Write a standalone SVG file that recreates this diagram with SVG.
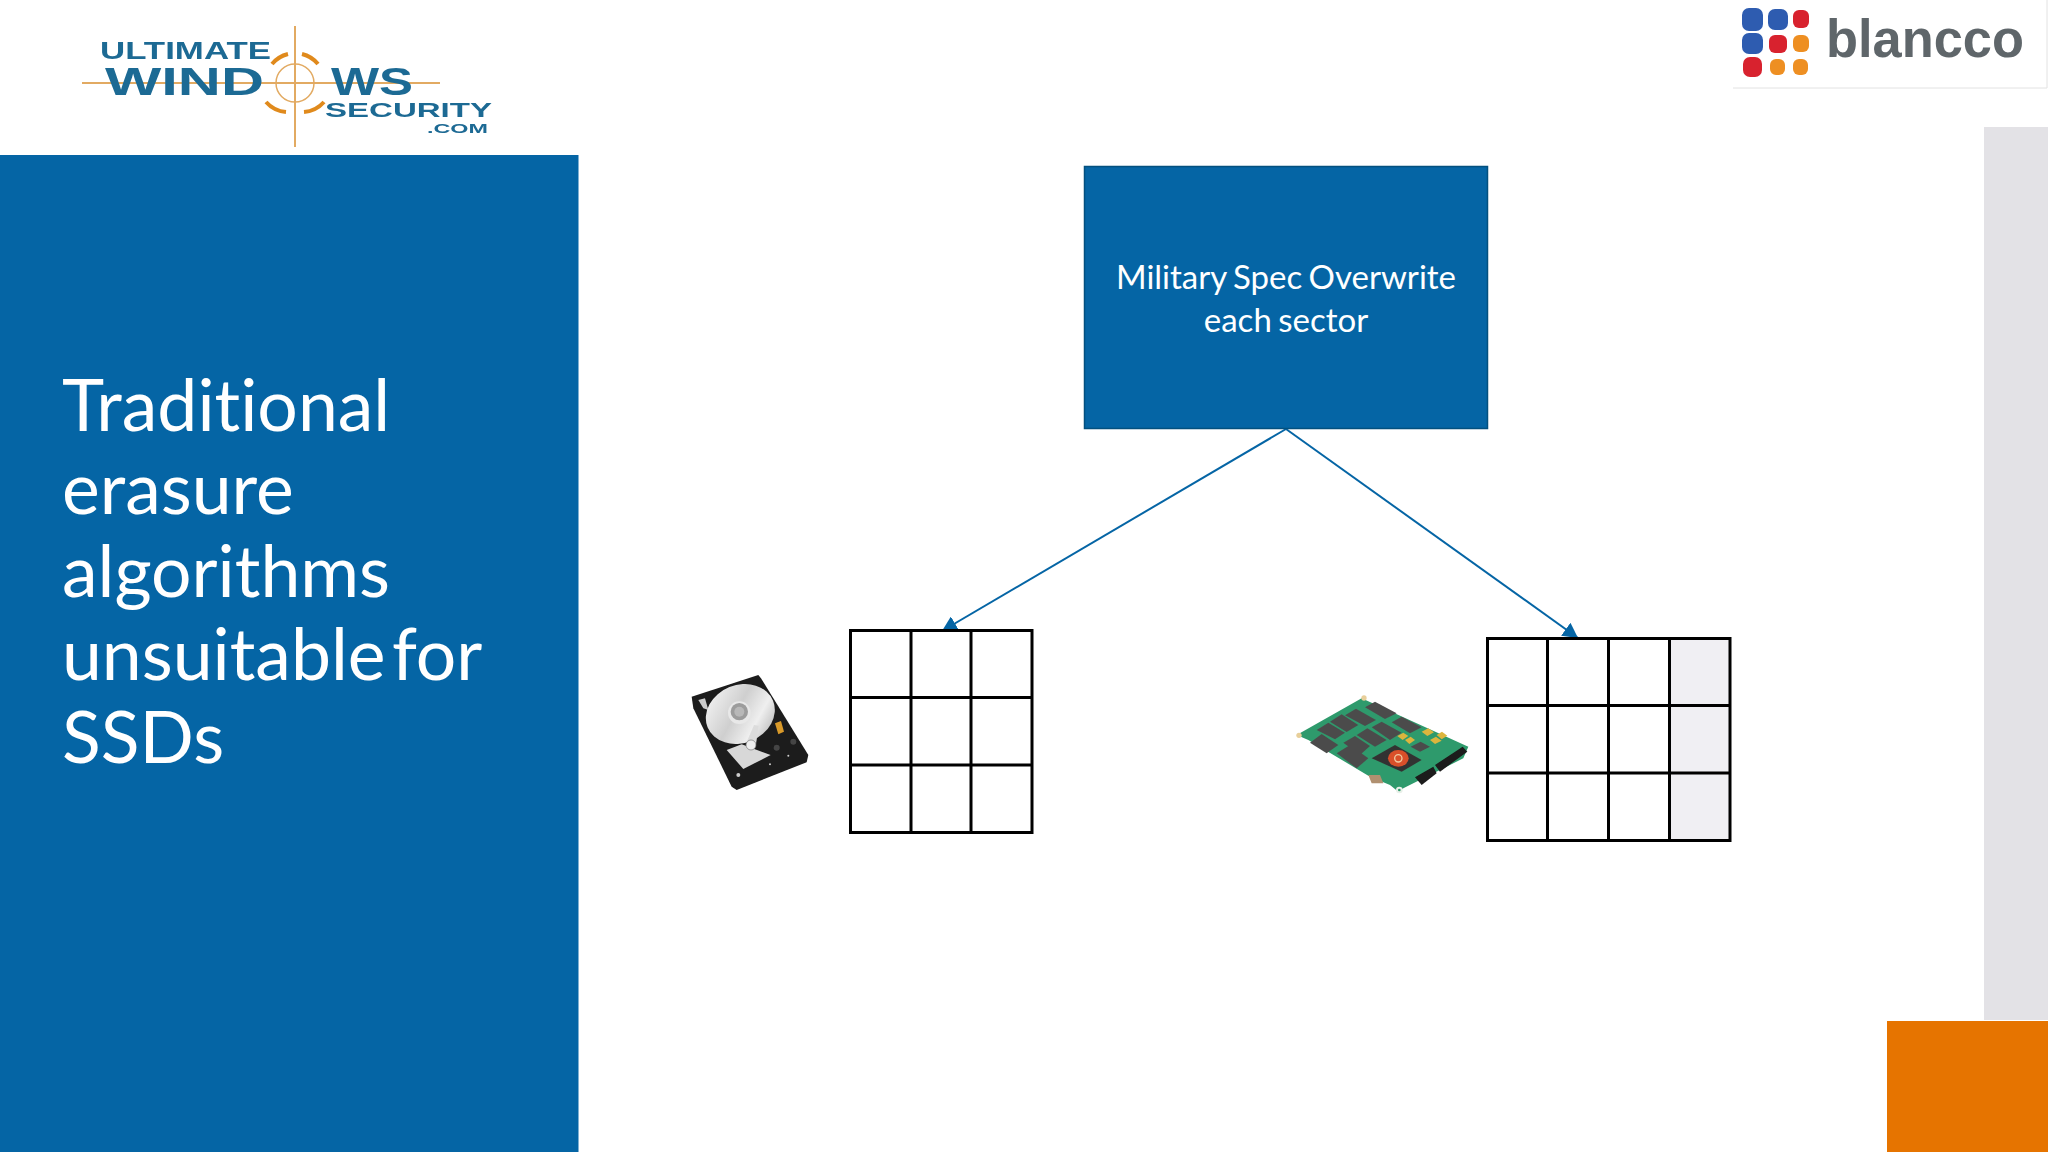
<svg xmlns="http://www.w3.org/2000/svg" width="2048" height="1152" viewBox="0 0 2048 1152">
<style>
.os{font-family:"Lato","Open Sans",sans-serif;fill:#fff;font-variant-ligatures:none}
.title{font-size:71.5px;word-spacing:-12px}
.boxt{font-size:33px;text-anchor:middle;word-spacing:-2px}
.grid{fill:none;stroke:#000;stroke-width:3}
.conn{fill:none;stroke:#0565a5;stroke-width:2}
.lg{font-family:"Liberation Sans",Arimo,sans-serif;font-weight:700;fill:#1f6a94}
</style>
<defs>
<marker id="ah" markerUnits="userSpaceOnUse" markerWidth="16" markerHeight="16" refX="15" refY="8" orient="auto"><path d="M0 0L15 8L0 16z" fill="#0565a5"/></marker>
<filter id="soft" x="-5%" y="-5%" width="110%" height="110%"><feGaussianBlur stdDeviation="0.7"/></filter>
<linearGradient id="plat" x1="0" y1="0" x2="1" y2="1"><stop offset="0" stop-color="#fafafa"/><stop offset="0.45" stop-color="#cfcfcf"/><stop offset="0.7" stop-color="#efefef"/><stop offset="1" stop-color="#a8a8a8"/></linearGradient>
</defs>
<rect width="2048" height="1152" fill="#fff"/>
<rect id="strip" x="1984" y="127" width="64" height="893" fill="#e3e2e6"/>
<rect id="corner" x="1887" y="1021" width="161" height="131" fill="#e67400"/>
<g id="panel">
<rect x="0" y="155" width="578.5" height="997" fill="#0565a5"/>
<text class="os title" x="62" y="431">Traditional</text>
<text class="os title" x="62" y="514">erasure</text>
<text class="os title" x="62" y="597">algorithms</text>
<text class="os title" x="62" y="680">unsuitable for</text>
<text class="os title" x="62" y="763">SSDs</text>
</g>
<g id="logo-uws" filter="url(#soft)">
<path d="M295 26V147M82 83H440" stroke="#e2aa62" stroke-width="2" fill="none"/>
<circle cx="295" cy="83" r="19" fill="none" stroke="#e2aa62" stroke-width="1.5"/>
<path d="M272 64A30 30 0 0 1 288 54M302 54A30 30 0 0 1 318 64M324 102A30 30 0 0 1 304 112M286 112A30 30 0 0 1 266 102" fill="none" stroke="#e08a1e" stroke-width="4"/>
<text class="lg" x="100" y="59" font-size="23" textLength="171" lengthAdjust="spacingAndGlyphs">ULTIMATE</text>
<text class="lg" x="105" y="95" font-size="38" textLength="159" lengthAdjust="spacingAndGlyphs">WIND</text>
<text class="lg" x="331" y="95" font-size="38" textLength="82" lengthAdjust="spacingAndGlyphs">WS</text>
<text class="lg" x="325" y="117" font-size="21" textLength="167" lengthAdjust="spacingAndGlyphs">SECURITY</text>
<text class="lg" x="427" y="133" font-size="12" textLength="61" lengthAdjust="spacingAndGlyphs">.COM</text>
</g>
<g id="logo-blancco" filter="url(#soft)">
<path d="M1733 88H2047V0" fill="none" stroke="#e2e2e2" stroke-width="1"/>
<rect x="1742" y="8" width="21" height="23" rx="7" fill="#2f5cb0"/>
<rect x="1768" y="9" width="20" height="21" rx="7" fill="#2f5cb0"/>
<rect x="1793" y="10" width="16" height="18" rx="6" fill="#d8212f"/>
<rect x="1742" y="33" width="21" height="21" rx="7" fill="#2f5cb0"/>
<rect x="1769" y="35" width="18" height="18" rx="6" fill="#d8212f"/>
<rect x="1793" y="35" width="16" height="17" rx="6" fill="#ee8f22"/>
<rect x="1743" y="57" width="19" height="20" rx="7" fill="#d8212f"/>
<rect x="1770" y="59" width="15" height="16" rx="6" fill="#ee8f22"/>
<rect x="1793" y="59" width="15" height="16" rx="6" fill="#ee8f22"/>
<text x="1826" y="57" font-family="Liberation Sans,sans-serif" font-weight="700" font-size="53" fill="#5f666b" textLength="198" lengthAdjust="spacingAndGlyphs">blancco</text>
</g>
<g id="connectors">
<path class="conn" d="M1286 429L942 631" marker-end="url(#ah)"/>
<path class="conn" d="M1286 429L1578 638" marker-end="url(#ah)"/>
</g>
<g id="box">
<rect x="1084.5" y="166.5" width="403" height="262" fill="#0565a5" stroke="#03507f" stroke-width="1.5"/>
<text class="os boxt" x="1286" y="289">Military Spec Overwrite</text>
<text class="os boxt" x="1286" y="332">each sector</text>
</g>
<g id="grid-hdd">
<path class="grid" d="M850.5 630.5H1032V832.5H850.5zM911 630.5V832.5M971 630.5V832.5M850.5 697.5H1032M850.5 765H1032"/>
</g>
<g id="grid-ssd">
<rect x="1669" y="638" width="61" height="203" fill="#f0eff3"/>
<path class="grid" d="M1487.5 638.5H1730V840.5H1487.5zM1547.5 638.5V840.5M1608.5 638.5V840.5M1669.5 638.5V840.5M1487.5 705.5H1730M1487.5 773H1730"/>
</g>
<g id="hdd" transform="translate(680 665) scale(.3333)" filter="url(#soft)">
<path d="M35 95L235 30L243 40L385 270L380 292L170 375L155 365L40 130z" fill="#1b1b1b"/>
<path d="M55 105L75 100L85 135L70 130z" fill="#ccc"/>
<ellipse cx="181" cy="147" rx="106" ry="87" transform="rotate(-22 181 147)" fill="url(#plat)"/>
<circle cx="178" cy="143" r="34" fill="#e8e8e8"/>
<circle cx="178" cy="140" r="26" fill="#9c9c9c"/>
<circle cx="178" cy="140" r="15" fill="#b8b8b8"/>
<path d="M285 175L303 168L312 200L295 208z" fill="#d99a2b"/>
<path d="M140 255L185 238L272 270L190 312z" fill="#d8d8d8"/>
<path d="M200 232L222 180L236 182L228 238z" fill="#dcdcdc"/>
<circle cx="213" cy="240" r="15" fill="#eee" stroke="#777" stroke-width="2"/>
<circle cx="290" cy="248" r="9" fill="#444"/><circle cx="340" cy="230" r="9" fill="#444"/>
<circle cx="175" cy="330" r="6" fill="#ccc"/><circle cx="270" cy="298" r="3" fill="#ccc"/><circle cx="325" cy="272" r="3" fill="#ccc"/>
</g>
<g id="ssd" transform="translate(1290 690) scale(.3333)" filter="url(#soft)">
<path d="M20 135L215 25L535 170L520 205L340 295L325 305L300 285L240 260L55 150z" fill="#2f9a6c"/>
<circle cx="27" cy="136" r="8" fill="#e8cf9a"/><circle cx="222" cy="24" r="8" fill="#e8cf9a"/><circle cx="328" cy="300" r="10" fill="#e8f0e8"/><circle cx="328" cy="300" r="4" fill="#2f9a6c"/>
<g fill="#4c4c4c">
<path d="M225 52L255 35L320 70L285 87z"/><path d="M165 76L198 56L258 90L225 108z"/>
<path d="M120 95L155 73L205 105L170 126z"/><path d="M80 120L115 98L165 128L135 148z"/>
<path d="M305 97L335 80L395 112L360 130z"/><path d="M245 112L275 95L335 128L300 150z"/>
<path d="M200 135L232 115L290 150L255 170z"/><path d="M160 158L195 138L240 168L210 195z"/>
<path d="M60 158L95 132L145 165L110 190z"/><path d="M140 190L180 165L235 205L200 235z"/>
<path d="M362 170L392 155L420 170L390 185z"/>
</g>
<g fill="#dcb53e"><path d="M322 138L340 128L355 138L338 150z"/><path d="M345 150L362 140L375 150L358 162z"/><path d="M395 125L415 115L432 127L412 138z"/><path d="M420 150L438 140L455 152L435 162z"/><path d="M440 135L456 125L472 137L455 148z"/></g>
<path d="M245 205L315 165L395 210L335 245z" fill="#333"/>
<ellipse cx="325" cy="205" rx="31" ry="25" fill="#d9502a"/>
<circle cx="325" cy="205" r="11" fill="none" stroke="#f0c8a0" stroke-width="4"/>
<path d="M435 225L518 170L532 185L450 245z" fill="#1a1a1a"/>
<path d="M375 262L430 230L440 250L395 285z" fill="#1a1a1a"/>
<path d="M235 255L270 255L280 280L245 280z" fill="#b09070"/>
</g>
</svg>
